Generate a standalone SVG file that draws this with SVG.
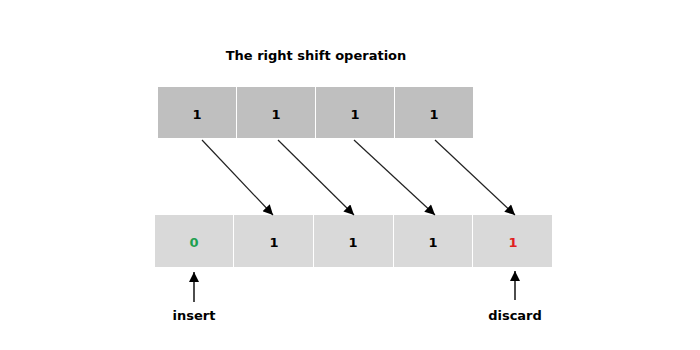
<svg xmlns="http://www.w3.org/2000/svg" width="700" height="350" viewBox="0 0 700 350">
<style>
text{font-family:"DejaVu Sans",Verdana,sans-serif;font-weight:bold;font-size:13px;text-anchor:middle;fill:#000}
.top{fill:#bfbfbf}
.bot{fill:#d9d9d9}
.c{stroke:#222;stroke-width:1.2;fill:none;marker-end:url(#ah)}
.c2{stroke:#000;stroke-width:1.4;fill:none;marker-end:url(#ah)}
</style>
<defs>
<marker id="ah" viewBox="0 0 10 10" refX="10" refY="5" markerWidth="11" markerHeight="10" markerUnits="userSpaceOnUse" orient="auto"><path d="M0,0L10,5L0,10z" fill="#000"/></marker>
</defs>
<rect width="700" height="350" fill="#fff"/>
<text x="316" y="60">The right shift operation</text>
<g id="t0"><rect class="top" x="158" y="87" width="78" height="51"/><text x="197" y="119">1</text></g>
<g id="t1"><rect class="top" x="237" y="87" width="78" height="51"/><text x="276" y="119">1</text></g>
<g id="t2"><rect class="top" x="316" y="87" width="78" height="51"/><text x="355" y="119">1</text></g>
<g id="t3"><rect class="top" x="395" y="87" width="78" height="51"/><text x="434" y="119">1</text></g>
<g id="b0"><rect class="bot" x="155" y="215" width="78" height="52"/><text x="194" y="247" style="fill:#1fa050">0</text></g>
<g id="b1"><rect class="bot" x="234" y="215" width="79" height="52"/><text x="274" y="247">1</text></g>
<g id="b2"><rect class="bot" x="314" y="215" width="79" height="52"/><text x="353" y="247">1</text></g>
<g id="b3"><rect class="bot" x="394" y="215" width="78" height="52"/><text x="433" y="247">1</text></g>
<g id="b4"><rect class="bot" x="473" y="215" width="79" height="52"/><text x="513" y="247" style="fill:#e02020">1</text></g>
<g id="insert"><text x="194" y="320">insert</text></g>
<g id="discard"><text x="515" y="320">discard</text></g>
<g id="connectors">
<path class="c" d="M202,140L273,215"/>
<path class="c" d="M278,140L354,215"/>
<path class="c" d="M354,140L435,215"/>
<path class="c" d="M435,140L515,215"/>
<path class="c2" d="M194,302L194,272"/>
<path class="c2" d="M515,300L515,271"/>
</g>
</svg>
